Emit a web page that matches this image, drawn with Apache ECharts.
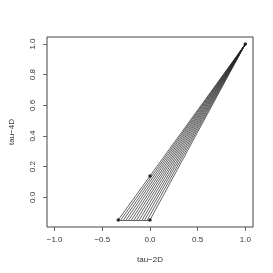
<!DOCTYPE html>
<html><head><meta charset="utf-8">
<script src="https://cdn.jsdelivr.net/npm/echarts@6/dist/echarts.min.js"></script>
<style>html,body{margin:0;padding:0;background:#fff}#c{width:273px;height:273px}</style>
</head><body><div id="c"></div>
<script>
// data
var xTicks = [-1.0, -0.5, 0.0, 0.5, 1.0];
var yTicks = [0.0, 0.2, 0.4, 0.6, 0.8, 1.0];
var apex = [1.0, 1.0];
var baseY = -0.147;
var hatchStartX = [-0.333, -0.306, -0.278, -0.25, -0.222, -0.194, -0.167, -0.139, -0.111, -0.083, -0.056, -0.028, 0.0];
var pointsX = [1.0, -0.333, 0.0, 0.0];
var pointsY = [1.0, -0.147, -0.147, 0.14];

var lineData = hatchStartX.map(function (x) { return { coords: [[x, baseY], apex] }; });
lineData.push({ coords: [[hatchStartX[0], baseY], [hatchStartX[hatchStartX.length - 1], baseY]] });
var pts = pointsX.map(function (x, i) { return [x, pointsY[i]]; });

function fmt(v) { var s = v.toFixed(1); return v < 0 ? '\u2212' + s.slice(1) : s; }

var chart = echarts.init(document.getElementById('c'), null, { renderer: 'canvas' });
chart.setOption({
  animation: false,
  textStyle: { fontFamily: 'Liberation Sans' },
  grid: { left: 37, right: 20, top: 37, bottom: 46, show: true, borderColor: '#444', borderWidth: 1, backgroundColor: 'transparent' },
  xAxis: {
    type: 'value', min: -1.08, max: 1.08,
    name: 'tau\u22122D', nameLocation: 'middle', nameGap: 29,
    nameTextStyle: { fontSize: 8, color: '#333' },
    axisLine: { show: false, onZero: false },
    splitLine: { show: false },
    axisTick: { show: true, length: 4, customValues: xTicks, lineStyle: { color: '#444', width: 0.8 } },
    axisLabel: { customValues: xTicks, formatter: fmt, fontSize: 8, color: '#333', margin: 9 }
  },
  yAxis: {
    type: 'value', min: -0.193, max: 1.046,
    name: 'tau\u22124D', nameLocation: 'middle', nameGap: 31, nameRotate: 90,
    nameTextStyle: { fontSize: 8, color: '#333' },
    axisLine: { show: false, onZero: false },
    splitLine: { show: false },
    axisTick: { show: true, length: 4, customValues: yTicks, lineStyle: { color: '#444', width: 0.8 } },
    axisLabel: { customValues: yTicks, formatter: fmt, fontSize: 8, color: '#333', margin: 10, rotate: 90 }
  },
  series: [
    { type: 'lines', coordinateSystem: 'cartesian2d', polyline: false, silent: true,
      lineStyle: { color: '#222', width: 0.7, opacity: 1 }, data: lineData },
    { type: 'scatter', symbol: 'circle', symbolSize: 3.5, itemStyle: { color: '#000' }, data: pts, silent: true }
  ]
});
</script></body></html>
